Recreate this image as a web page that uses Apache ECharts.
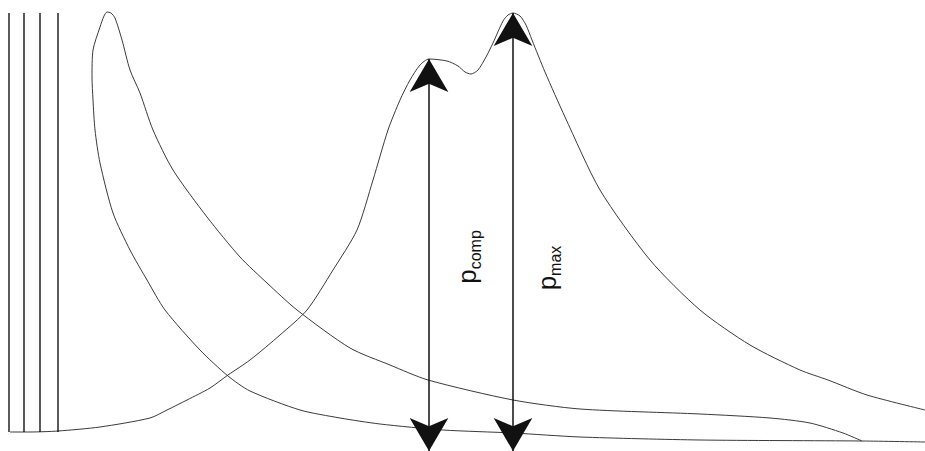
<!DOCTYPE html>
<html>
<head>
<meta charset="utf-8">
<script src="https://cdn.jsdelivr.net/npm/echarts@6/dist/echarts.min.js"></script>
<style>html,body{margin:0;padding:0;background:#fff}#c{width:925px;height:451px}</style>
</head>
<body>
<div id="c"></div>
<script>
// Cylinder pressure trace (arbitrary units: x = crank position, p = pressure)
const pressureX = [10,30,58,100,150,167,187,210,228,250,280,307,333,357,373,388,400,410,420,429,447,458,465,471,478,486,493,503,508,513,520,526,532,545,565,600,650,700,750,800,828,867,925];
const pressureP = [19,19,20,24,33,41,51,63,76,91,116,141,181,221,271,321,351,371,386,392,390,385,379,377,381,394,408,430,436,438,435,426,411,379,334,261,191,141,106,81,71,56,41];

// Second (looped) trace
const loopX = [925,862,700,580,513,443,380,340,300,250,228,200,165,147,130,113,100,95,93,92,93,100,104,107,111,115,122,130,140,153,173,207,240,267,297,350,390,428,513,580,700,770,810,843,862];
const loopP = [9,10,11,14,18,21,27,33,41,60,75,101,141,171,201,238,288,321,351,374,401,424,435,439,438,433,411,381,358,321,281,234,194,168,141,103,86,71,51,42,37,33,28,18,10];

// Vertical reference lines
const refLinesX = [9,24,40,58];
const refLineRange = [19,438];

// Annotated pressures
const pCompX = 429, pComp = 392;
const pMaxX = 513, pMax = 438;
const baseP = 0;

// Label anchors (centre of each label)
const labelNames = ['comp', 'max'];
const labelX = [467, 547];
const labelP = [194, 183];

const zip = (xs, ys) => xs.map((x, i) => [x, ys[i]]);

const chart = echarts.init(document.getElementById('c'), null, {renderer: 'svg'});

const lineStyleCurve = {color: '#3a3a3a', width: 1};

const labelRich = {
  a: {fontSize: 26, fontFamily: 'Liberation Sans, Arial, sans-serif', color: '#111', verticalAlign: 'top', lineHeight: 26},
  b: {fontSize: 16, fontFamily: 'Liberation Sans, Arial, sans-serif', color: '#111', verticalAlign: 'top', padding: [13, 0, 0, 0], lineHeight: 16}
};

const series = [
  {
    type: 'line', name: 'pressure', data: zip(pressureX, pressureP),
    showSymbol: false, symbol: 'none', smooth: 0.25, lineStyle: lineStyleCurve, silent: true,
    markLine: {
      silent: true,
      symbol: ['arrow', 'arrow'],
      symbolSize: [29, 33],
      label: {show: false},
      lineStyle: {color: '#111', width: 1.5, type: 'solid'},
      itemStyle: {color: '#111'},
      emphasis: {disabled: true},
      data: [
        [{coord: [pCompX, pComp]}, {coord: [pCompX, baseP]}],
        [{coord: [pMaxX, pMax]}, {coord: [pMaxX, baseP]}]
      ]
    },
    markPoint: {
      silent: true,
      symbol: 'circle',
      symbolSize: 1,
      itemStyle: {color: 'rgba(0,0,0,0)'},
      label: {
        show: true, position: 'inside', rotate: 90, align: 'center', verticalAlign: 'middle',
        rich: labelRich
      },
      data: labelNames.map((n, i) => ({
        coord: [labelX[i], labelP[i]],
        label: {formatter: '{a|p}{b|' + n + '}'}
      }))
    }
  },
  {
    type: 'line', name: 'loop', data: zip(loopX, loopP),
    showSymbol: false, symbol: 'none', smooth: 0.25, lineStyle: lineStyleCurve, silent: true
  }
].concat(refLinesX.map(x => ({
  type: 'line', data: [[x, refLineRange[0]], [x, refLineRange[1]]],
  showSymbol: false, symbol: 'none', lineStyle: {color: '#000', width: 1.3}, silent: true
})));

chart.setOption({
  animation: false,
  grid: {left: 0, right: 0, top: 0, bottom: 0},
  xAxis: {type: 'value', min: 0, max: 925, show: false},
  yAxis: {type: 'value', min: 0, max: 451, show: false},
  series: series
});
</script>
</body>
</html>
